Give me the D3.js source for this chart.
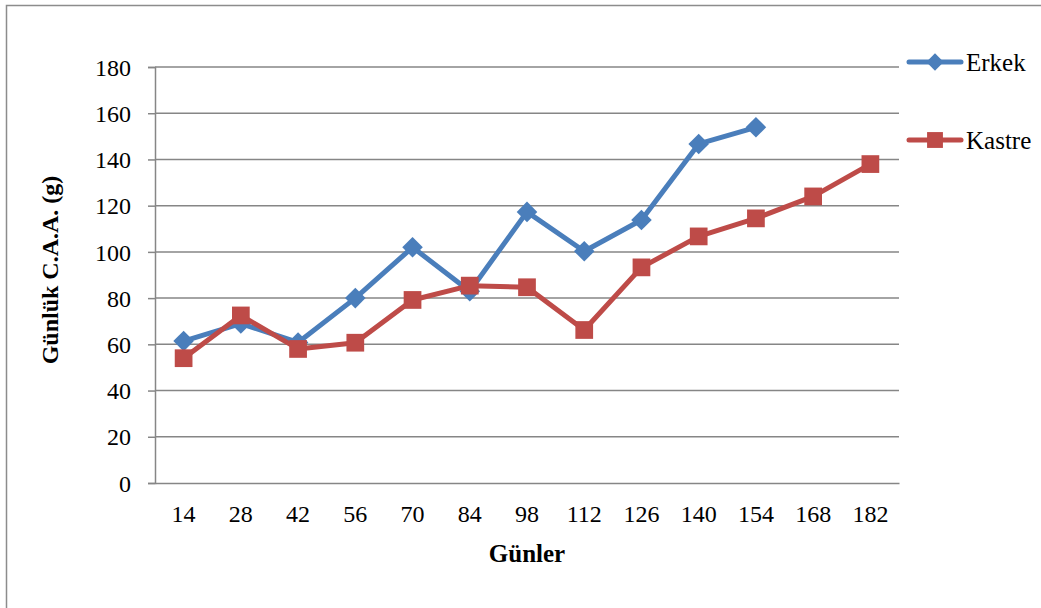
<!DOCTYPE html>
<html>
<head>
<meta charset="utf-8">
<script src="https://cdn.jsdelivr.net/npm/d3@7"></script>
<style>
  html, body { margin: 0; padding: 0; background: #fff; }
  svg { display: block; }
  svg text { font-family: "Liberation Serif", "Times New Roman", "DejaVu Serif", serif !important; fill: #000; }
</style>
</head>
<body>
<svg id="chart" width="1041" height="608"></svg>
<script>
// Daily live weight gain (g) by day, for intact (Erkek) and castrated (Kastre) animals
const days = [14, 28, 42, 56, 70, 84, 98, 112, 126, 140, 154, 168, 182];
const erkek = [61.4, 69, 60.8, 80, 102, 83, 117.3, 100.3, 113.8, 146.7, 153.9, null, null];
const kastre = [54, 72.5, 58, 60.7, 79.2, 85.4, 84.7, 66.2, 93.3, 106.7, 114.5, 124, 138];
const yTicks = [0, 20, 40, 60, 80, 100, 120, 140, 160, 180];
const seriesNames = ["Erkek", "Kastre"];
const seriesColors = ["#4A7EBB", "#BE4B48"];

const FONT = "'Liberation Serif', 'Times New Roman', serif";
const svg = d3.select("#chart");
const plot = { left: 155, right: 899, top: 67, bottom: 483 };

// Outer chart frame
svg.append("rect")
  .attr("x", 6.5).attr("y", 5.5)
  .attr("width", 1040).attr("height", 620)
  .attr("fill", "none").attr("stroke", "#8c8c8c").attr("stroke-width", 1.5);

const x = d3.scaleBand().domain(days).range([plot.left, plot.right]);
const y = d3.scaleLinear().domain([0, 180]).range([plot.bottom, plot.top]);

// Horizontal gridlines
svg.append("g").selectAll("line")
  .data(yTicks.filter(d => d > 0))
  .join("line")
  .attr("x1", plot.left).attr("x2", plot.right)
  .attr("y1", d => y(d)).attr("y2", d => y(d))
  .attr("stroke", "#868686").attr("stroke-width", 1.5);

// Y axis
const yAxis = svg.append("g")
  .attr("transform", `translate(${plot.left},0)`)
  .call(d3.axisLeft(y).tickValues(yTicks).tickSize(7).tickPadding(17))
  .attr("font-family", FONT).attr("font-size", 24);
yAxis.select(".domain").attr("stroke", "#868686").attr("stroke-width", 1.5);
yAxis.selectAll(".tick line").attr("stroke", "#868686").attr("stroke-width", 1.5);
yAxis.selectAll(".tick text")
  .style("font-family", FONT).style("font-size", "24px").attr("fill", "#000")
  .attr("dy", "0.34em");

// X axis
const xAxis = svg.append("g")
  .attr("transform", `translate(0,${plot.bottom})`)
  .call(d3.axisBottom(x).tickSize(0).tickPadding(22))
  .attr("font-family", FONT).attr("font-size", 24);
xAxis.select(".domain").attr("stroke", "#868686").attr("stroke-width", 1.5);
xAxis.selectAll(".tick text")
  .style("font-family", FONT).style("font-size", "24px").attr("fill", "#000");

// Axis titles
svg.append("text")
  .attr("transform", `translate(58,270) rotate(-90)`)
  .attr("text-anchor", "middle")
  .style("font-family", FONT).style("font-size", "24px").style("font-weight", "bold")
  .text("Günlük C.A.A. (g)");
svg.append("text")
  .attr("x", 527).attr("y", 562)
  .attr("text-anchor", "middle")
  .style("font-family", FONT).style("font-size", "25px").style("font-weight", "bold")
  .text("Günler");

const cx = d => x(d) + x.bandwidth() / 2;
const diamond = d3.symbol().type(d3.symbolDiamond2).size(270);
const square = d3.symbol().type(d3.symbolSquare2).size(400);

function drawSeries(values, color, sym) {
  const pts = days.map((d, i) => ({ d, v: values[i] })).filter(p => p.v != null);
  svg.append("path")
    .datum(pts)
    .attr("fill", "none").attr("stroke", color).attr("stroke-width", 5)
    .attr("stroke-linejoin", "round")
    .attr("d", d3.line().x(p => cx(p.d)).y(p => y(p.v)));
  svg.append("g").selectAll("path")
    .data(pts)
    .join("path")
    .attr("transform", p => `translate(${cx(p.d)},${y(p.v)})`)
    .attr("d", sym)
    .attr("fill", color);
}
drawSeries(erkek, seriesColors[0], diamond);
drawSeries(kastre, seriesColors[1], square);

// Legend
const legendY = [62, 140];
const legendSyms = [d3.symbol().type(d3.symbolDiamond2).size(190), d3.symbol().type(d3.symbolSquare2).size(320)];
seriesNames.forEach((name, i) => {
  const g = svg.append("g");
  g.append("line")
    .attr("x1", 909).attr("x2", 961)
    .attr("y1", legendY[i]).attr("y2", legendY[i])
    .attr("stroke", seriesColors[i]).attr("stroke-width", 5).attr("stroke-linecap", "round");
  g.append("path")
    .attr("transform", `translate(935,${legendY[i]})`)
    .attr("d", legendSyms[i]).attr("fill", seriesColors[i]);
  g.append("text")
    .attr("x", 966).attr("y", legendY[i]).attr("dy", "0.34em")
    .style("font-family", FONT).style("font-size", "25px")
    .text(name);
});
</script>
</body>
</html>
